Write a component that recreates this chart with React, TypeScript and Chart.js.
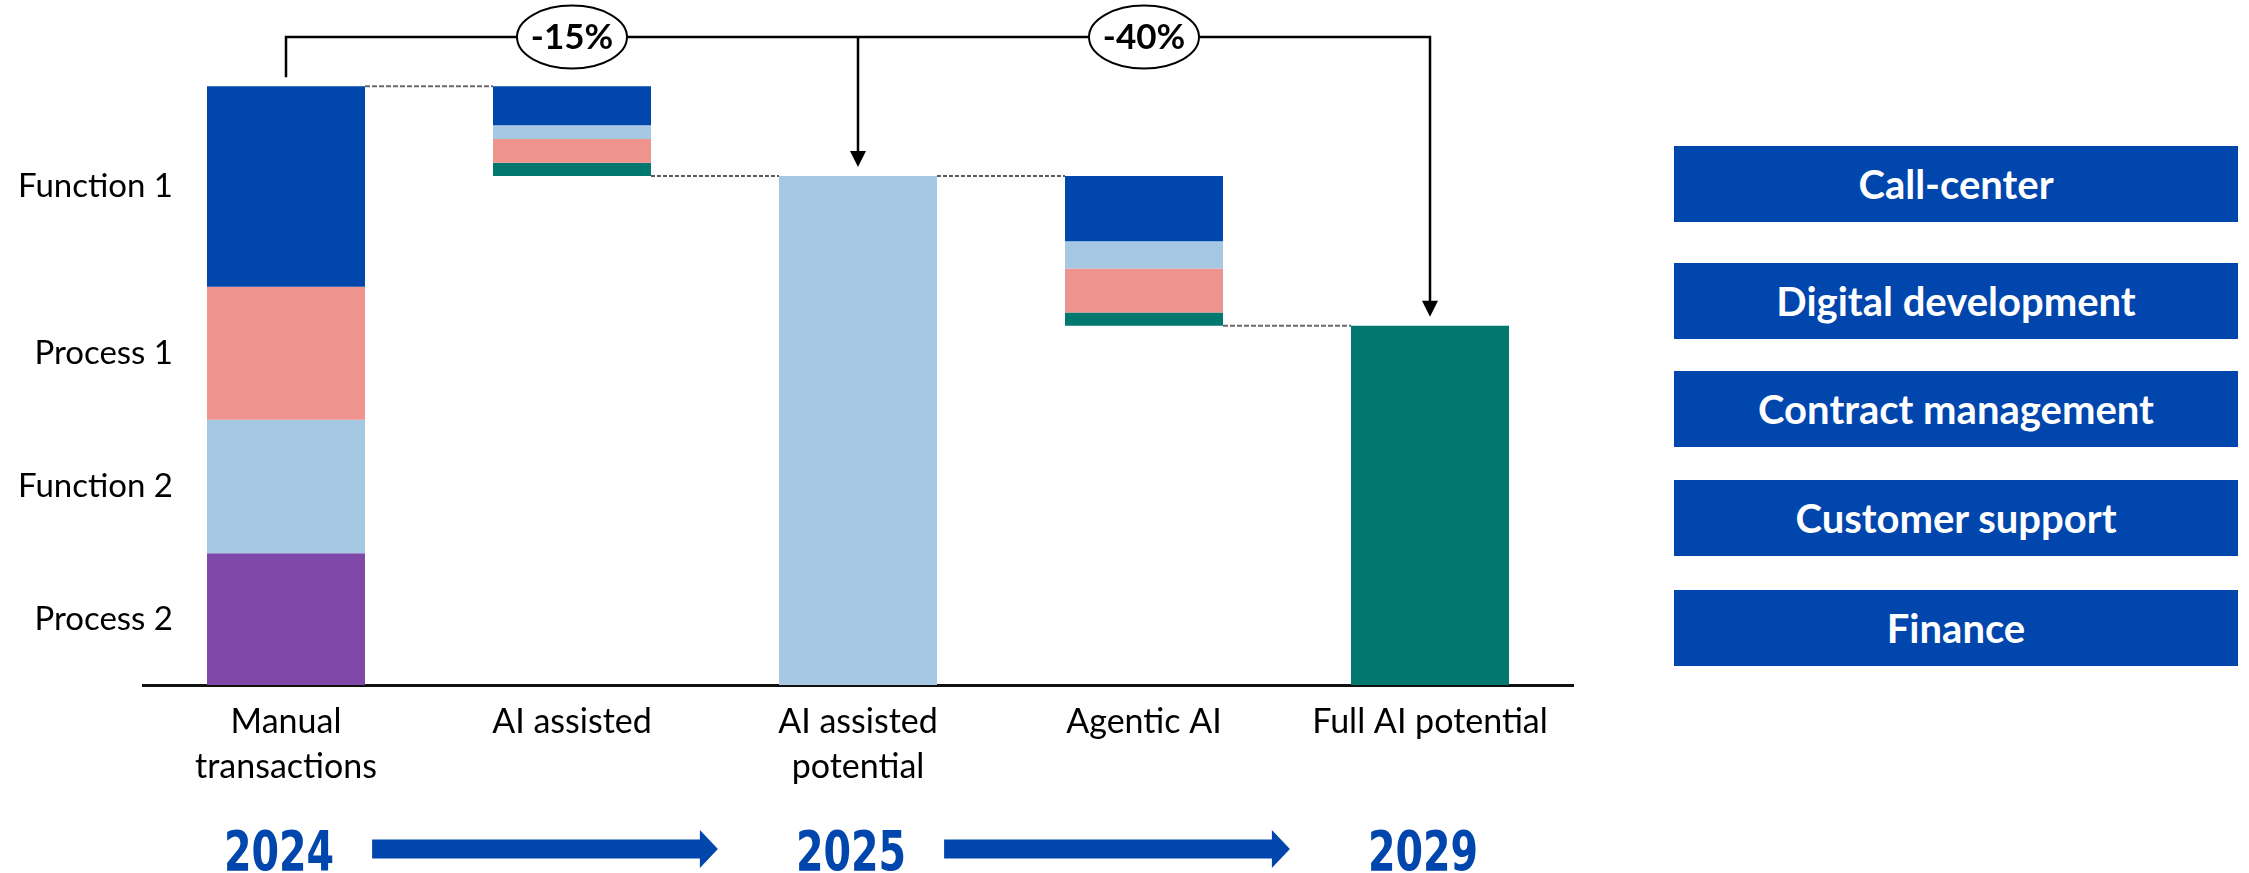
import { useEffect, useRef } from "react";
import { Chart, registerables } from "chart.js";

Chart.register(...registerables);

// ---- data ----
const categories: (string | string[])[] = [
  ["Manual", "transactions"],
  "AI assisted",
  ["AI assisted", "potential"],
  "Agentic AI",
  "Full AI potential",
];

// Manual workload split, bottom to top
const manualSegmentNames = ["Process 2", "Function 2", "Process 1", "Function 1"];
const manualSegmentValues = [22.0, 22.3, 22.2, 33.5];

// Savings of each step, top to bottom (blue, light blue, pink, teal)
const aiAssistedSavings = [6.5, 2.3, 4.0, 2.2];
const agenticSavings = [10.9, 4.6, 7.3, 2.2];

const reductionLabels = ["-15%", "-40%"];
const milestoneCategories = [0, 2, 4];
const years = ["2024", "2025", "2029"];
const functionAreas = [
  "Call-center",
  "Digital development",
  "Contract management",
  "Customer support",
  "Finance",
];

// ---- styling ----
const BLUE = "#0046AD";
const PINK = "#EF938F";
const LIGHT = "#A6C8E2";
const PURPLE = "#7F48A9";
const TEAL = "#00776F";
const manualColors = [PURPLE, LIGHT, PINK, BLUE];
const savingColors = [BLUE, LIGHT, PINK, TEAL];

const BAR_PCT = 0.5524;
const Y_MAX = 114.4;
const BRACKET_LEVEL = 108.2;
const ARROW_GAP = 1.5;
const FONT = "Lato";
const boxTops = [146, 263, 371, 480, 590];

// ---- waterfall segments ----
type Seg = { cat: number; lo: number; hi: number; color: string };
const segments: Seg[] = [];
let level = 0;
manualSegmentValues.forEach((v, i) => {
  segments.push({ cat: 0, lo: level, hi: level + v, color: manualColors[i] });
  level += v;
});
const manualTotal = level;
aiAssistedSavings.forEach((v, i) => {
  segments.push({ cat: 1, lo: level - v, hi: level, color: savingColors[i] });
  level -= v;
});
const assistedPotential = level;
segments.push({ cat: 2, lo: 0, hi: assistedPotential, color: LIGHT });
agenticSavings.forEach((v, i) => {
  segments.push({ cat: 3, lo: level - v, hi: level, color: savingColors[i] });
  level -= v;
});
const fullPotential = level;
segments.push({ cat: 4, lo: 0, hi: fullPotential, color: TEAL });

const milestoneTotals = [manualTotal, assistedPotential, fullPotential];
const connectorLevels = [manualTotal, assistedPotential, assistedPotential, fullPotential];
const connectorStyles = [
  { color: "#6b6b6b", width: 2, dash: [5, 2] },
  { color: "#222222", width: 1.5, dash: [4, 2] },
  { color: "#222222", width: 1.5, dash: [4, 2] },
  { color: "#6b6b6b", width: 2, dash: [5, 2] },
];

const colorOrder = [BLUE, PINK, LIGHT, PURPLE, TEAL];
const datasets = colorOrder.map((color) => ({
  data: categories.map((_, ci) => {
    const s = segments.find((g) => g.cat === ci && g.color === color);
    return s ? [s.lo, s.hi] : null;
  }),
  backgroundColor: color,
  borderWidth: 0,
  grouped: false,
  categoryPercentage: 1,
  barPercentage: BAR_PCT,
}));

const manualCenters = manualSegmentValues.map((v, i) => {
  const below = manualSegmentValues.slice(0, i).reduce((a, b) => a + b, 0);
  return below + v / 2;
});

function arrowHead(ctx: CanvasRenderingContext2D, x: number, tipY: number) {
  ctx.beginPath();
  ctx.moveTo(x, tipY);
  ctx.lineTo(x - 8, tipY - 16);
  ctx.lineTo(x + 8, tipY - 16);
  ctx.closePath();
  ctx.fill();
}

const overlay = {
  id: "waterfallOverlay",
  afterDraw(chart: any) {
    const ctx: CanvasRenderingContext2D = chart.ctx;
    const xs = chart.scales.x;
    const ys = chart.scales.y;
    const step = xs.getPixelForValue(1) - xs.getPixelForValue(0);
    const half = (step * BAR_PCT) / 2;
    ctx.save();

    // dashed connectors between consecutive bars
    connectorLevels.forEach((lv, i) => {
      const st = connectorStyles[i];
      const py = ys.getPixelForValue(lv);
      ctx.beginPath();
      ctx.setLineDash(st.dash);
      ctx.strokeStyle = st.color;
      ctx.lineWidth = st.width;
      ctx.moveTo(xs.getPixelForValue(i) + half, py);
      ctx.lineTo(xs.getPixelForValue(i + 1) - half, py);
      ctx.stroke();
    });
    ctx.setLineDash([]);

    // segment names on the left
    ctx.fillStyle = "#000";
    ctx.font = `33px ${FONT}`;
    ctx.textAlign = "right";
    ctx.textBaseline = "middle";
    manualSegmentNames.forEach((name, i) => {
      ctx.fillText(name, chart.chartArea.left + 30, ys.getPixelForValue(manualCenters[i]));
    });

    // reduction bracket
    const by = ys.getPixelForValue(BRACKET_LEVEL);
    const mx = milestoneCategories.map((c) => xs.getPixelForValue(c));
    const tips = milestoneTotals.map((t) => ys.getPixelForValue(t + ARROW_GAP));
    ctx.strokeStyle = "#000";
    ctx.fillStyle = "#000";
    ctx.lineWidth = 2.5;
    ctx.beginPath();
    ctx.moveTo(mx[0], tips[0]);
    ctx.lineTo(mx[0], by);
    ctx.lineTo(mx[2], by);
    ctx.lineTo(mx[2], tips[2] - 14);
    ctx.moveTo(mx[1], by);
    ctx.lineTo(mx[1], tips[1] - 14);
    ctx.stroke();
    arrowHead(ctx, mx[1], tips[1]);
    arrowHead(ctx, mx[2], tips[2]);

    reductionLabels.forEach((label, i) => {
      const cx = (mx[i] + mx[i + 1]) / 2;
      ctx.beginPath();
      ctx.ellipse(cx, by, 55, 31.5, 0, 0, Math.PI * 2);
      ctx.fillStyle = "#fff";
      ctx.fill();
      ctx.lineWidth = 2;
      ctx.strokeStyle = "#000";
      ctx.stroke();
      ctx.fillStyle = "#000";
      ctx.font = `bold 35px ${FONT}`;
      ctx.textAlign = "center";
      ctx.textBaseline = "middle";
      ctx.fillText(label, cx, by + 1);
    });

    // timeline of years with block arrows
    const yearBase = chart.height - 3;
    const arrowY = yearBase - 21;
    const sx = 0.72;
    ctx.font = `bold 55px "DejaVu Sans"`;
    ctx.textAlign = "center";
    ctx.textBaseline = "alphabetic";
    ctx.fillStyle = BLUE;
    const spans = years.map((yr, i) => {
      const cx = mx[i] - 7;
      const w = ctx.measureText(yr).width * sx;
      ctx.save();
      ctx.translate(cx, yearBase);
      ctx.scale(sx, 1);
      ctx.fillText(yr, 0, 0);
      ctx.restore();
      return { l: cx - w / 2, r: cx + w / 2 };
    });
    for (let i = 0; i < spans.length - 1; i++) {
      const x0 = spans[i].r + 38;
      const x1 = spans[i + 1].l - 78;
      ctx.beginPath();
      ctx.moveTo(x0, arrowY - 9.5);
      ctx.lineTo(x1 - 18, arrowY - 9.5);
      ctx.lineTo(x1 - 18, arrowY - 19);
      ctx.lineTo(x1, arrowY);
      ctx.lineTo(x1 - 18, arrowY + 19);
      ctx.lineTo(x1 - 18, arrowY + 9.5);
      ctx.lineTo(x0, arrowY + 9.5);
      ctx.closePath();
      ctx.fill();
    }
    ctx.restore();
  },
};

export default function App() {
  const canvasRef = useRef<HTMLCanvasElement | null>(null);

  useEffect(() => {
    const canvas = canvasRef.current;
    if (!canvas) return;
    const chart = new Chart(canvas, {
      type: "bar",
      data: { labels: categories as any, datasets: datasets as any },
      options: {
        responsive: false,
        animation: false,
        devicePixelRatio: 1,
        layout: { padding: { left: 0, right: 676, top: 0, bottom: 0 } },
        plugins: { legend: { display: false }, tooltip: { enabled: false } },
        scales: {
          x: {
            type: "category",
            offset: true,
            z: 1,
            grid: { display: false, drawTicks: false },
            border: { display: true, color: "#111", width: 3 },
            ticks: {
              color: "#000",
              padding: 14,
              maxRotation: 0,
              autoSkip: false,
              font: { family: FONT, size: 34, lineHeight: 1.33 },
            },
            afterFit: (s: any) => {
              s.height = 188;
              s.paddingLeft = 0;
              s.paddingRight = 0;
            },
          },
          y: {
            type: "linear",
            min: 0,
            max: Y_MAX,
            grid: { display: false, drawTicks: false },
            border: { display: false },
            ticks: { display: false },
            afterFit: (s: any) => {
              s.width = 143;
              s.paddingTop = 0;
              s.paddingBottom = 0;
            },
          },
        },
      } as any,
      plugins: [overlay],
    });
    return () => chart.destroy();
  }, []);

  return (
    <div
      style={{
        position: "absolute",
        left: 0,
        top: 0,
        width: 2249,
        height: 873,
        background: "#fff",
        overflow: "hidden",
      }}
    >
      <canvas ref={canvasRef} width={2249} height={873} style={{ display: "block" }} />
      {functionAreas.map((name, i) => (
        <div
          key={name}
          style={{
            position: "absolute",
            left: 1674,
            top: boxTops[i],
            width: 564,
            height: 76,
            background: BLUE,
            color: "#fff",
            fontFamily: FONT,
            fontWeight: 700,
            fontSize: 40,
            display: "flex",
            alignItems: "center",
            justifyContent: "center",
          }}
        >
          {name}
        </div>
      ))}
    </div>
  );
}
